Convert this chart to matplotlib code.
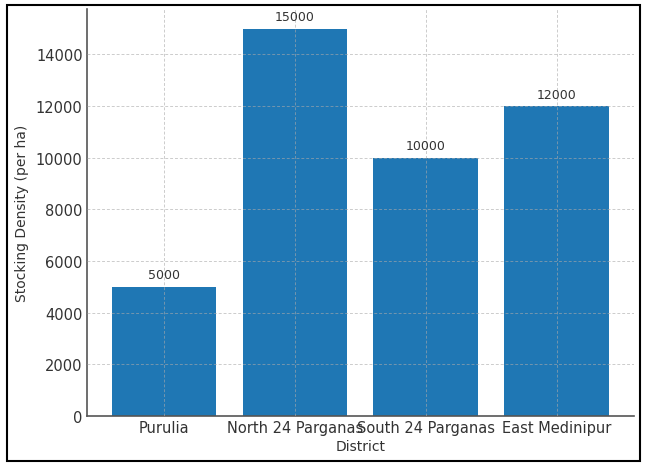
import matplotlib
matplotlib.use("Agg")
import matplotlib.pyplot as plt
from matplotlib.patches import Rectangle

districts = ["Purulia", "North 24 Parganas", "South 24 Parganas", "East Medinipur"]
density = [5000, 15000, 10000, 12000]

fig = plt.figure(figsize=(6.48, 4.64), dpi=100)
ax = fig.add_axes([0.134, 0.101, 0.844, 0.877])

bars = ax.bar(districts, density, width=0.8, color="#1f77b4", zorder=2)
for b, v in zip(bars, density):
    ax.annotate(f"{v}", (b.get_x() + b.get_width() / 2, v), xytext=(0, 4),
                textcoords="offset points", ha="center", va="bottom",
                fontsize=9, color="#333333")

ax.grid(True, linestyle=(0, (3, 2)), color="#aaaaaa", alpha=0.6, linewidth=0.7, zorder=3)
ax.set_axisbelow(False)
for s in ["top", "right"]:
    ax.spines[s].set_visible(False)
for s in ["left", "bottom"]:
    ax.spines[s].set_color("#555555")
    ax.spines[s].set_linewidth(1.2)
ax.tick_params(length=0, labelsize=10.5, colors="#333333")
ax.tick_params(axis="y", pad=3)
ax.tick_params(axis="x", pad=3)
ax.set_xlabel("District", fontsize=10, color="#333333", labelpad=3)
ax.set_ylabel("Stocking Density (per ha)", fontsize=10, color="#333333", labelpad=5)

fig.patches.append(Rectangle((0.011, 0.004), 0.976, 0.983, transform=fig.transFigure,
                             fill=False, edgecolor="black", linewidth=1.5))

fig.savefig("out.png", dpi=100)
